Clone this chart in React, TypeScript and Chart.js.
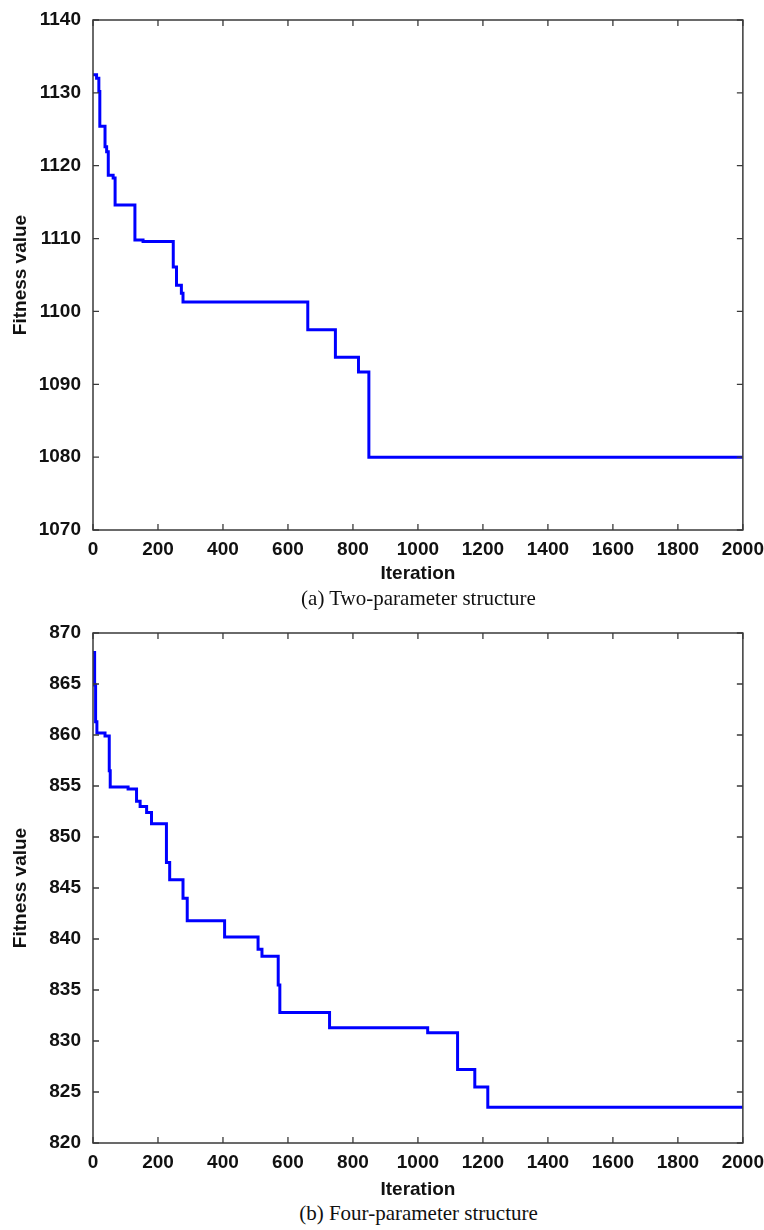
import React, { useEffect, useRef } from "react";
import { Chart, registerables } from "chart.js";

Chart.register(...registerables);

// (a) Two-parameter structure
const iterA = [0, 11, 18, 21, 37, 42, 47, 62, 68, 129, 154, 247, 257, 272, 277, 661, 746, 817, 849, 2000];
const fitA = [1132.5, 1132.0, 1130.2, 1125.4, 1122.6, 1121.9, 1118.7, 1118.3, 1114.6, 1109.8, 1109.6, 1106.1, 1103.6, 1102.5, 1101.3, 1097.5, 1093.7, 1091.7, 1080.0, 1080.0];

// (b) Four-parameter structure
const iterB = [0, 5, 8, 12, 37, 50, 53, 108, 134, 145, 165, 180, 226, 236, 277, 290, 405, 508, 520, 570, 575, 728, 1030, 1122, 1175, 1215, 2000];
const fitB = [868.1, 864.9, 861.3, 860.2, 859.9, 856.5, 854.9, 854.7, 853.5, 853.0, 852.4, 851.3, 847.5, 845.8, 844.0, 841.8, 840.2, 839.0, 838.3, 835.5, 832.8, 831.3, 830.8, 827.2, 825.5, 823.5, 823.5];

const xTitle = "Iteration";
const yTitle = "Fitness value";
const captionA = "(a) Two-parameter structure";
const captionB = "(b) Four-parameter structure";

const AXIS_FONT = "'Liberation Sans Narrow', 'Arial Narrow', 'Liberation Sans', Arial, sans-serif";
const SERIF = "'Liberation Serif', 'Times New Roman', serif";

const framePlugin = {
  id: "frame",
  afterDatasetsDraw(chart: any) {
    const { ctx, chartArea } = chart;
    const { left, right, top, bottom } = chartArea;
    const xs = chart.scales.x;
    const ys = chart.scales.y;
    ctx.save();
    ctx.strokeStyle = "#3a3a3a";
    ctx.lineWidth = 1.5;
    ctx.strokeRect(left, top, right - left, bottom - top);
    ctx.lineWidth = 1.3;
    const L = 6;
    ctx.beginPath();
    xs.ticks.forEach((t: any) => {
      const px = xs.getPixelForValue(t.value);
      ctx.moveTo(px, bottom);
      ctx.lineTo(px, bottom - L);
      ctx.moveTo(px, top);
      ctx.lineTo(px, top + L);
    });
    ys.ticks.forEach((t: any) => {
      const py = ys.getPixelForValue(t.value);
      ctx.moveTo(left, py);
      ctx.lineTo(left + L, py);
      ctx.moveTo(right, py);
      ctx.lineTo(right - L, py);
    });
    ctx.stroke();
    ctx.restore();
  },
};

type PanelProps = {
  xs: number[];
  ys: number[];
  yMin: number;
  yMax: number;
  yStep: number;
  padTop: number;
  height: number;
  xAxisHeight: number;
  tickPad: number;
};

function Panel(p: PanelProps) {
  const ref = useRef<HTMLCanvasElement | null>(null);
  useEffect(() => {
    if (!ref.current) return;
    const data = p.xs.map((x, i) => ({ x, y: p.ys[i] }));
    const tickFont = { family: AXIS_FONT, size: 19, weight: "bold" as const };
    const chart = new Chart(ref.current, {
      type: "line",
      data: {
        datasets: [
          {
            data,
            borderColor: "#0000ff",
            borderWidth: 3,
            pointRadius: 0,
            stepped: "before",
            fill: false,
          },
        ],
      },
      options: {
        animation: false,
        responsive: false,
        maintainAspectRatio: false,
        devicePixelRatio: 1,
        layout: { padding: { top: p.padTop, right: 20, bottom: 0, left: 0 } },
        plugins: { legend: { display: false }, tooltip: { enabled: false } },
        scales: {
          x: {
            type: "linear",
            min: 0,
            max: 2000,
            ticks: {
              stepSize: 200,
              padding: p.tickPad,
              color: "#111",
              font: tickFont,
              maxRotation: 0,
              autoSkip: false,
              callback: (v: any) => String(v),
            },
            grid: { display: false },
            border: { display: false },
            title: {
              display: true,
              text: xTitle,
              color: "#111",
              font: tickFont,
              padding: { top: 0, bottom: 0 },
            },
            afterFit: (s: any) => {
              s.height = p.xAxisHeight;
            },
          },
          y: {
            type: "linear",
            min: p.yMin,
            max: p.yMax,
            ticks: {
              stepSize: p.yStep,
              padding: 4,
              color: "#111",
              font: tickFont,
              callback: (v: any) => String(v),
            },
            grid: { display: false },
            border: { display: false },
            title: {
              display: true,
              text: yTitle,
              color: "#111",
              font: tickFont,
              padding: { top: 9, bottom: 0 },
            },
            afterFit: (s: any) => {
              s.width = 93;
            },
          },
        },
      },
      plugins: [framePlugin],
    });
    return () => chart.destroy();
  }, []);
  return <canvas ref={ref} width={764} height={p.height} style={{ display: "block" }} />;
}

const capStyle: React.CSSProperties = {
  position: "absolute",
  left: 93,
  width: 651,
  textAlign: "center",
  fontFamily: SERIF,
  fontSize: 21,
  lineHeight: "22px",
  color: "#111",
  zIndex: 2,
};

export default function App() {
  return (
    <div style={{ position: "absolute", left: 0, top: 0, width: 764, height: 1230, background: "#fff" }}>
      <div style={{ position: "absolute", left: 0, top: 0 }}>
        <Panel xs={iterA} ys={fitA} yMin={1070} yMax={1140} yStep={10} padTop={20} height={585} xAxisHeight={55} tickPad={0} />
      </div>
      <div style={{ ...capStyle, top: 587 }}>{captionA}</div>
      <div style={{ position: "absolute", left: 0, top: 600 }}>
        <Panel xs={iterB} ys={fitB} yMin={820} yMax={870} yStep={5} padTop={33} height={601} xAxisHeight={58} tickPad={0} />
      </div>
      <div style={{ ...capStyle, top: 1202 }}>{captionB}</div>
    </div>
  );
}
